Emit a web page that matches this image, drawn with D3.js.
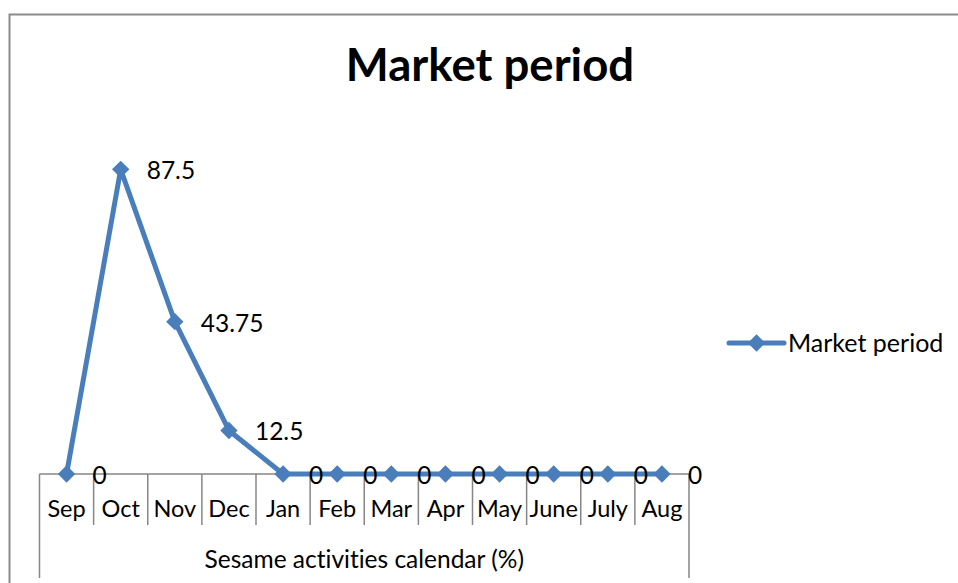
<!DOCTYPE html>
<html>
<head>
<meta charset="utf-8">
<script src="https://cdn.jsdelivr.net/npm/d3@7"></script>
<style>
  html, body { margin: 0; padding: 0; background: #fff; }
  svg { display: block; }
  text { font-family: Lato, "Open Sans", sans-serif; fill: #000; font-variant-ligatures: none; }
</style>
</head>
<body>
<svg id="chart" width="958" height="583"></svg>
<script>
// Monthly categories and the share of the market period in each (%)
const months = ["Sep", "Oct", "Nov", "Dec", "Jan", "Feb", "Mar", "Apr", "May", "June", "July", "Aug"];
const marketPeriod = [0, 87.5, 43.75, 12.5, 0, 0, 0, 0, 0, 0, 0, 0];
const seriesName = "Market period";
const chartTitle = "Market period";
const groupLabel = "Sesame activities calendar (%)";

const blue = "#4A7EBB";
const gridGray = "#868686";

const svg = d3.select("#chart");

// chart area frame
svg.append("rect")
  .attr("x", 9.5).attr("y", 14.5)
  .attr("width", 1000).attr("height", 700)
  .attr("fill", "#fff")
  .attr("stroke", "#8c8c8c")
  .attr("stroke-width", 2);

// title
svg.append("text")
  .attr("x", 490).attr("y", 81)
  .attr("text-anchor", "middle")
  .attr("font-weight", "bold")
  .attr("font-size", 45.5)
  .text(chartTitle);

// scales
const x = d3.scaleBand().domain(months).range([39.5, 689]).padding(0);
const y = d3.scaleLinear().domain([0, 100]).range([474, 125.8]);

// category axis: baseline, band separators and labels
const axisG = svg.append("g");
axisG.append("line")
  .attr("x1", x.range()[0]).attr("x2", x.range()[1])
  .attr("y1", y(0)).attr("y2", y(0))
  .attr("stroke", gridGray).attr("stroke-width", 1.5);

const bounds = months.map(m => x(m)).concat([x.range()[1]]);
axisG.selectAll("line.sep")
  .data(bounds)
  .join("line")
  .attr("class", "sep")
  .attr("x1", d => d).attr("x2", d => d)
  .attr("y1", y(0))
  .attr("y2", (d, i) => (i === 0 || i === bounds.length - 1) ? 578 : 525)
  .attr("stroke", gridGray).attr("stroke-width", 1.5);

axisG.selectAll("text.cat")
  .data(months)
  .join("text")
  .attr("class", "cat")
  .attr("x", d => x(d) + x.bandwidth() / 2)
  .attr("y", 517)
  .attr("text-anchor", "middle")
  .attr("font-size", 23.5)
  .text(d => d);

axisG.append("text")
  .attr("x", (x.range()[0] + x.range()[1]) / 2)
  .attr("y", 568)
  .attr("text-anchor", "middle")
  .attr("font-size", 24.5)
  .text(groupLabel);

// series line
const pts = months.map((m, i) => ({ m, v: marketPeriod[i] }));
const cx = d => x(d.m) + x.bandwidth() / 2;

svg.append("path")
  .datum(pts)
  .attr("fill", "none")
  .attr("stroke", blue)
  .attr("stroke-width", 5)
  .attr("stroke-linejoin", "round")
  .attr("stroke-linecap", "round")
  .attr("d", d3.line().x(cx).y(d => y(d.v)));

// diamond markers
const diamond = d3.symbol().type(d3.symbolSquare).size(150);
svg.selectAll("path.mk")
  .data(pts)
  .join("path")
  .attr("class", "mk")
  .attr("d", diamond)
  .attr("fill", blue)
  .attr("transform", d => `translate(${cx(d)},${y(d.v)}) rotate(45)`);

// value labels
svg.selectAll("text.val")
  .data(pts)
  .join("text")
  .attr("class", "val")
  .attr("x", d => cx(d) + 26)
  .attr("y", d => y(d.v) + 10)
  .attr("font-size", 24.5)
  .text(d => d.v);

// legend
const lg = svg.append("g");
lg.append("line")
  .attr("x1", 729).attr("x2", 784)
  .attr("y1", 343).attr("y2", 343)
  .attr("stroke", blue).attr("stroke-width", 5)
  .attr("stroke-linecap", "round");
lg.append("path")
  .attr("d", diamond)
  .attr("fill", blue)
  .attr("transform", "translate(756.5,343) rotate(45)");
lg.append("text")
  .attr("x", 788).attr("y", 352)
  .attr("font-size", 25)
  .text(seriesName);
</script>
</body>
</html>
